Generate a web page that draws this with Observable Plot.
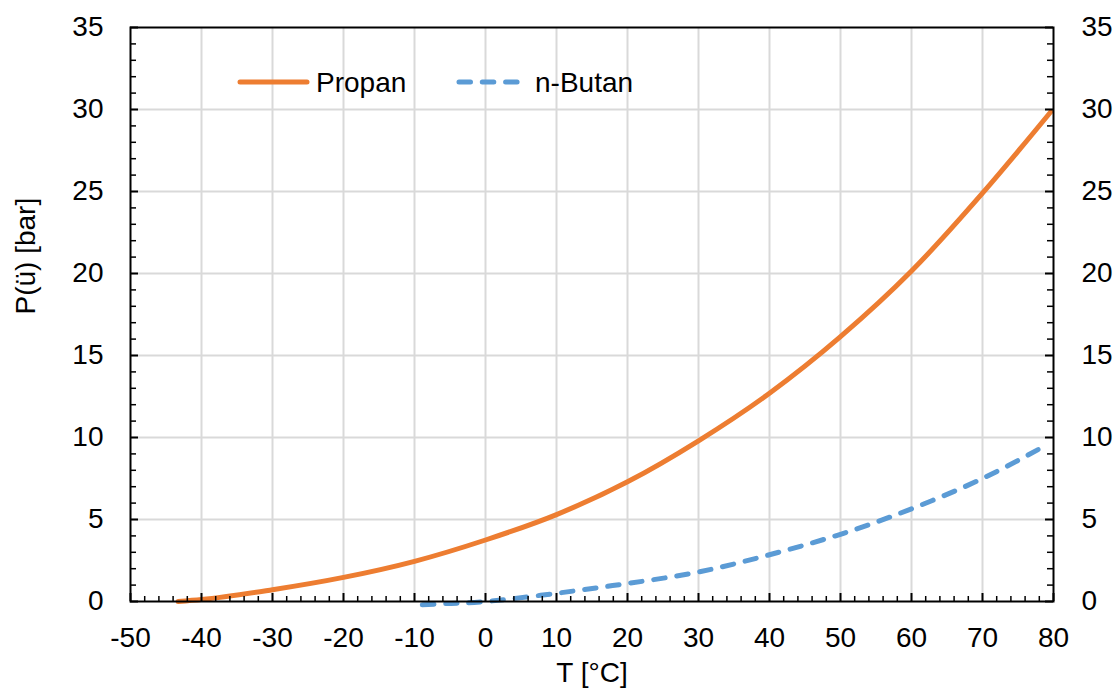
<!DOCTYPE html>
<html><head><meta charset="utf-8">
<script src="https://cdn.jsdelivr.net/npm/d3@7"></script>
<script src="https://cdn.jsdelivr.net/npm/@observablehq/plot@0.6"></script>
<style>
body{margin:0;background:#fff;}
#wrap{position:relative;width:1116px;height:691px;font-family:"Liberation Sans",Arial,sans-serif;}
#legend{position:absolute;left:0;top:0;pointer-events:none;}
</style></head><body><div id="wrap"></div>
<script>
// Data (gauge vapour pressure)
const propanT = [-43.3, -40, -30, -20, -10, 0, 10, 20, 30, 40, 50, 60, 70, 79.6];
const propanP = [0, 0.12, 0.72, 1.47, 2.45, 3.75, 5.3, 7.3, 9.8, 12.7, 16.15, 20.15, 24.9, 29.85];
const butanT = [-8.9, -5, 0, 10, 20, 30, 40, 50, 60, 70, 78.4];
const butanP = [-0.2, -0.12, 0.0, 0.5, 1.1, 1.8, 2.85, 4.1, 5.65, 7.5, 9.4];
const seriesNames = ["Propan", "n-Butan"];
const seriesColors = ["#ED7D31", "#5B9BD5"];
const xTicks = d3.range(-50, 81, 10);
const xMinor = d3.range(-50, 81, 2).filter(v => v % 10 !== 0);
const yTicks = d3.range(0, 36, 5);
const yMinor = d3.range(0, 36, 1).filter(v => v % 5 !== 0);
const xLabel = "T [°C]";
const yLabel = "P(ü) [bar]";

const W = 1116, H = 691, mL = 130, mR = 63, mT = 27, mB = 90;
const plotW = W - mL - mR, plotH = H - mT - mB;
const FS = 28;
const font = "Liberation Sans, Arial, sans-serif";
const fmt = d => String(d);

const propan = propanT.map((t, i) => ({t, p: propanP[i]}));
const butan = butanT.map((t, i) => ({t, p: butanP[i]}));
const dash = "11.5,11.8";
const LW = 5;

const chart = Plot.plot({
  width: W, height: H,
  marginLeft: mL, marginRight: mR, marginTop: mT, marginBottom: mB,
  style: {fontFamily: font, fontSize: FS + "px", color: "#000", background: "#fff"},
  x: {domain: [-50, 80], label: null},
  y: {domain: [0, 35], label: null},
  marks: [
    Plot.gridX(xTicks.filter(v => v > -50 && v < 80), {stroke: "#d9d9d9", strokeOpacity: 1, strokeWidth: 2}),
    Plot.gridY(yTicks.filter(v => v > 0 && v < 35), {stroke: "#d9d9d9", strokeOpacity: 1, strokeWidth: 2}),
    Plot.line(propan, {x: "t", y: "p", stroke: seriesColors[0], strokeWidth: LW, curve: "monotone-x", strokeLinecap: "round"}),
    Plot.line(butan, {x: "t", y: "p", stroke: seriesColors[1], strokeWidth: LW, curve: "natural", strokeDasharray: dash, strokeLinecap: "round"}),
    Plot.tickX(xTicks, {x: d => d, insetTop: plotH - 8, stroke: "#000", strokeWidth: 2}),
    Plot.tickX(xMinor, {x: d => d, insetTop: plotH - 5, stroke: "#000", strokeWidth: 1.5}),
    Plot.tickY(yTicks, {y: d => d, insetRight: plotW - 8, stroke: "#000", strokeWidth: 2}),
    Plot.tickY(yMinor, {y: d => d, insetRight: plotW - 6, stroke: "#000", strokeWidth: 1.5}),
    Plot.tickY(yTicks, {y: d => d, insetLeft: plotW - 8, stroke: "#000", strokeWidth: 2}),
    Plot.tickY(yMinor, {y: d => d, insetLeft: plotW - 6, stroke: "#000", strokeWidth: 1.5}),
    Plot.frame({stroke: "#000", strokeWidth: 2}),
    Plot.axisX(xTicks, {tickSize: 0, tickPadding: 26, fontSize: FS, label: null, tickFormat: fmt}),
    Plot.axisY(yTicks, {anchor: "left", tickSize: 0, tickPadding: 27, fontSize: FS, label: null, tickFormat: fmt}),
    Plot.axisY(yTicks, {anchor: "right", tickSize: 0, tickPadding: 28, fontSize: FS, label: null, tickFormat: fmt}),
    Plot.text([xLabel], {frameAnchor: "bottom", dy: 80, fontSize: FS, fill: "#000"}),
    Plot.text([yLabel], {frameAnchor: "left", dx: -104, rotate: -90, fontSize: FS, fill: "#000"})
  ]
});
const wrap = document.getElementById("wrap");
wrap.appendChild(chart);

// Legend (inside plot, top-left)
const ns = "http://www.w3.org/2000/svg";
const leg = document.createElementNS(ns, "svg");
leg.setAttribute("id", "legend");
leg.setAttribute("width", W); leg.setAttribute("height", H);
const items = [
  {x0: 240, x1: 307, tx: 316, dash: null},
  {x0: 459, x1: 520, tx: 535, dash: dash}
];
items.forEach((it, i) => {
  const l = document.createElementNS(ns, "line");
  l.setAttribute("x1", it.x0); l.setAttribute("x2", it.x1);
  l.setAttribute("y1", 82); l.setAttribute("y2", 82);
  l.setAttribute("stroke", seriesColors[i]); l.setAttribute("stroke-width", LW);
  l.setAttribute("stroke-linecap", "round");
  if (it.dash) l.setAttribute("stroke-dasharray", it.dash);
  leg.appendChild(l);
  const t = document.createElementNS(ns, "text");
  t.setAttribute("x", it.tx); t.setAttribute("y", 82);
  t.setAttribute("dy", "0.35em");
  t.setAttribute("font-size", FS); t.setAttribute("font-family", font);
  t.setAttribute("fill", "#000");
  t.textContent = seriesNames[i];
  leg.appendChild(t);
});
wrap.appendChild(leg);
</script></body></html>
